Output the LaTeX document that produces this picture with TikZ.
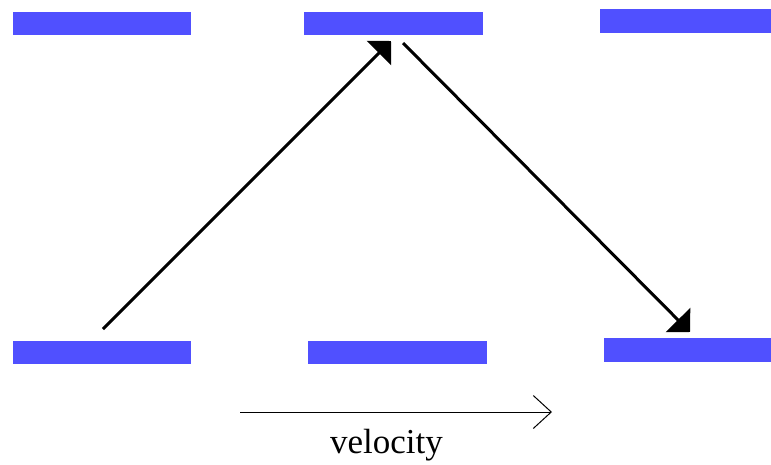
\documentclass[tikz,border=0pt]{standalone}
\usepackage{fontspec}
\setmainfont{Liberation Serif}
\usetikzlibrary{arrows.meta}
\definecolor{barblue}{RGB}{80,80,255}
\begin{document}
\begin{tikzpicture}[x=1pt,y=-1pt,
  bar/.style={rectangle,fill=barblue,inner sep=0pt,minimum height=23pt},
  jump/.style={line width=3pt,-{Triangle[length=17pt,width=34pt]}},
  vel/.style={line width=1pt,-{Straight Barb[length=18pt,width=33pt,line width=1pt]}}]
\useasboundingbox (0,0) rectangle (771,464);
\node[bar,minimum width=178.5pt] (tl) at (101.75,23) {};
\node[bar,minimum width=179pt] (tm) at (393.5,23) {};
\node[bar,minimum width=171pt,minimum height=24pt] (tr) at (685.5,21) {};
\node[bar,minimum width=178.5pt] (bl) at (101.75,352.3) {};
\node[bar,minimum width=178.5pt] (bm) at (397.5,352.3) {};
\node[bar,minimum width=167pt,minimum height=24pt] (br) at (687.5,350.3) {};
\coordinate (s1) at (103,329);
\coordinate (e1) at (391,41);
\coordinate (s2) at (403,43);
\coordinate (e2) at (690,332);
\draw[jump] (s1) -- (e1);
\draw[jump] (s2) -- (e2);
\coordinate (vs) at (240,412);
\coordinate (ve) at (552,412);
\draw[vel] (vs) -- (ve);
\node[anchor=base,font=\fontsize{35}{40}\selectfont,inner sep=0pt] (lbl) at (386.5,453) {velocity};
\end{tikzpicture}
\end{document}
